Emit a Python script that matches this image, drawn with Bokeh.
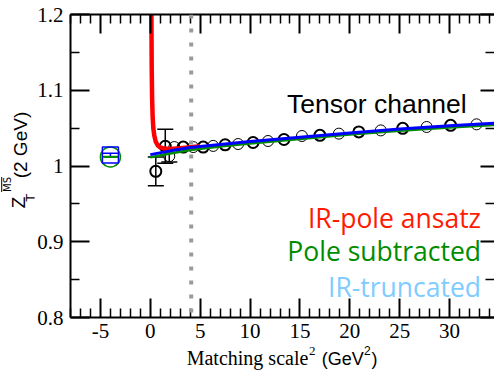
import math
from bokeh.plotting import figure
from bokeh.models import (LinearAxis, FixedTicker, Span, Label, Whisker, TeeHead,
                          ColumnDataSource, Range1d, Div, CustomLabelingPolicy)
from bokeh.layouts import row, column
from bokeh.embed import file_html
from bokeh.resources import INLINE

# ---------------- data ----------------
# open black circles, two interleaved sets (thick / thin outline)
bold_x = [0.55, 1.5, 3.3, 5.3, 7.5, 10.3, 13.4, 17.0, 20.9, 25.3, 30.1]
bold_y = [0.993, 1.026, 1.025, 1.025, 1.028, 1.031, 1.035, 1.0405, 1.045, 1.0497, 1.0537]
bold_err = [0.019, 0.0225, 0, 0, 0, 0, 0, 0, 0, 0, 0]

thin_x = [1.9, 2.4, 4.3, 6.3, 8.8, 11.8, 15.2, 18.9, 23.1, 27.7, 32.7]
thin_y = [1.013, 1.025, 1.025, 1.0265, 1.029, 1.033, 1.0396, 1.0427, 1.047, 1.0515, 1.055]
thin_err = [0.0077, 0, 0, 0, 0, 0, 0, 0, 0, 0, 0]

# extrapolated points at negative abscissa
ext_x = [-4.0]
sub_y = [1.0145]      # blue square
sub_err = [0.0022]
pole_y = [1.012]      # green circle
pole_err = [0.0004]

# fit curves
red_x = [0.09, 0.11, 0.14, 0.18, 0.23, 0.3, 0.4, 0.55, 0.75, 1.0, 1.4, 2.0, 3.0, 4.0, 5.0]
red_y = [1.30, 1.20, 1.13, 1.09, 1.066, 1.050, 1.040, 1.032, 1.027, 1.0245, 1.0230,
         1.0226, 1.0234, 1.0248, 1.0260]

blue_x = [0, 2, 4, 7, 10, 15, 20, 25, 30, 34.5]
blue_y = [1.0150, 1.0200, 1.0243, 1.0285, 1.0322, 1.0380, 1.0436, 1.0487, 1.0530, 1.0565]

green_x = [0, 2, 4, 7, 10, 15, 20, 25, 30, 34.5]
green_y = [1.0115, 1.0165, 1.0210, 1.0258, 1.0298, 1.0358, 1.0415, 1.0466, 1.0508, 1.0543]

matching_scale = 4.1

x_ticks = [-5, 0, 5, 10, 15, 20, 25, 30]
x_tick_labels = ["-5", "0", "5", "10", "15", "20", "25", "30"]
y_ticks = [0.8, 0.9, 1.0, 1.1, 1.2]
y_tick_labels = ["0.8", "0.9", "1", "1.1", "1.2"]

# ---------------- sizes ----------------
YDIV_W = 34
FIG_W = 494 - YDIV_W
FIG_H = 347
XDIV_H = 371 - FIG_H

p = figure(width=FIG_W, height=FIG_H, x_range=Range1d(-8, 34.5), y_range=Range1d(0.8, 1.2),
           output_backend="svg", toolbar_location=None,
           min_border_left=68 - YDIV_W, min_border_right=0, min_border_top=14,
           min_border_bottom=FIG_H - 14 - 303)
p.outline_line_color = None
p.xgrid.visible = False
p.ygrid.visible = False
p.background_fill_color = "white"
p.border_fill_color = "white"

x_minor = [v for v in range(-8, 35) if v % 5 != 0]
y_minor = [0.85, 0.95, 1.05, 1.15]
xt = FixedTicker(ticks=x_ticks, minor_ticks=x_minor)
yt = FixedTicker(ticks=y_ticks, minor_ticks=y_minor)

no_labels = CustomLabelingPolicy(code="return []")


def style(ax, major_len, minor_len, labels):
    ax.axis_line_width = 2
    ax.axis_line_color = "black"
    ax.major_tick_in = major_len
    ax.major_tick_out = 0
    ax.minor_tick_in = minor_len
    ax.minor_tick_out = 0
    ax.major_tick_line_width = 2
    ax.minor_tick_line_width = 1.5
    ax.major_tick_line_color = "black"
    ax.minor_tick_line_color = "black"
    if labels:
        ax.major_label_text_font = "Liberation Serif"
        ax.major_label_text_font_size = "21px"
        ax.major_label_text_color = "black"
    else:
        ax.major_label_text_font_size = "0px"
        ax.major_label_standoff = 0
        ax.major_label_policy = no_labels


bottom = p.xaxis[0]
bottom.ticker = xt
bottom.major_label_overrides = dict(zip(x_ticks, x_tick_labels))
style(bottom, 19, 9, True)
bottom.major_label_standoff = 6

left = p.yaxis[0]
left.ticker = yt
left.major_label_overrides = dict(zip(y_ticks, y_tick_labels))
style(left, 19, 9, True)
left.major_label_standoff = 7

top = LinearAxis(ticker=xt)
style(top, 19, 9, False)
p.add_layout(top, "above")

right = LinearAxis(ticker=yt)
style(right, 14, 9, False)
right.axis_line_alpha = 0
p.add_layout(right, "right")

# vertical dotted line at matching scale
p.add_layout(Span(location=matching_scale, dimension="height", line_color="#9a9a9a",
                  line_width=4, line_dash="4 10"))


def add_err(xs, ys, es, color, head):
    sel = [(x, y, e) for x, y, e in zip(xs, ys, es) if e > 0]
    src = ColumnDataSource(dict(x=[s[0] for s in sel],
                                lo=[s[1] - s[2] for s in sel],
                                hi=[s[1] + s[2] for s in sel]))
    p.add_layout(Whisker(source=src, base="x", lower="lo", upper="hi", dimension="height",
                         line_color=color, line_width=1.5,
                         lower_head=TeeHead(size=head, line_color=color, line_width=1.5),
                         upper_head=TeeHead(size=head, line_color=color, line_width=1.5)))


add_err(bold_x, bold_y, bold_err, "black", 16)
add_err(thin_x, thin_y, thin_err, "black", 16)
add_err(ext_x, sub_y, sub_err, "blue", 16)
add_err(ext_x, pole_y, pole_err, "#008c00", 14)

p.scatter(bold_x, bold_y, marker="circle", size=11, fill_color=None,
          line_color="black", line_width=2)
p.scatter(thin_x, thin_y, marker="circle", size=11, fill_color=None,
          line_color="black", line_width=1)

p.scatter(ext_x, pole_y, marker="circle", size=20, fill_color=None,
          line_color="#008c00", line_width=1.5)
p.scatter(ext_x, sub_y, marker="square", size=16, fill_color=None,
          line_color="blue", line_width=1.5)

p.line(red_x, red_y, line_color="red", line_width=4.5)
p.line(green_x, green_y, line_color="#008c00", line_width=2.5)
p.line(blue_x, blue_y, line_color="blue", line_width=3)


# ---------------- texts inside the frame ----------------
def lab(text, x, y, size, font, color="black", align="left"):
    p.add_layout(Label(text=text, x=x, y=y, x_units="screen", y_units="screen",
                       text_font=font, text_font_size=size, text_color=color,
                       text_align=align, text_baseline="alphabetic"))


lab("Tensor channel", 216.5, 214, "26.5px", "Liberation Sans")
lab("IR-pole ansatz", 410.5, 100, "26.5px", "Open Sans", "#ff1a00", "right")
lab("Pole subtracted", 410.5, 66.7, "26.5px", "Open Sans", "#008c00", "right")
lab("IR-truncated", 410.5, 30.7, "26.5px", "Open Sans", "#80ccff", "right")

# ---------------- axis titles as HTML text ----------------
ASC = {"Liberation Sans": (0.905, 0.212), "Liberation Serif": (0.891, 0.216),
       "DejaVu Sans": (0.928, 0.236)}


def piece(text, font, size, x_left, y_base, rotate=False, extra=""):
    a, d = ASC[font]
    b = size * ((1 - (a + d)) / 2 + a)        # baseline offset inside the line box
    if rotate:
        tx, ty = x_left - b, y_base
        tr = "translate(%.1fpx,%.1fpx) rotate(-90deg)" % (tx, ty)
    else:
        tr = "translate(%.1fpx,%.1fpx)" % (x_left, y_base - b)
    return ('<div style="height:0;white-space:nowrap;transform-origin:0 0;'
            'transform:%s;font-family:\'%s\';font-size:%.1fpx;line-height:%.1fpx;'
            'color:black;%s">%s</div>' % (tr, font, size, size, extra, text))


# x title: coordinates inside the lower div (origin at page x=YDIV_W, y=FIG_H)
oy = FIG_H
ox = YDIV_W
x_html = "".join([
    piece("Matching scale", "Liberation Serif", 20, 186.7 - ox, 365 - oy),
    piece("2", "Liberation Serif", 13, 309.0 - ox, 355 - oy),
    piece("(GeV", "Liberation Sans", 18, 321.7 - ox, 365 - oy),
    piece("2", "Liberation Sans", 12, 364.0 - ox, 355 - oy),
    piece(")", "Liberation Sans", 18, 371.5 - ox, 365 - oy),
])

# y title (rotated, reading upward); for rotated pieces x is the baseline's page x
y_html = "".join([
    piece("Z", "Liberation Sans", 19, 25.0, 208.3, rotate=True),
    piece("T", "Liberation Sans", 13, 34.5, 201.7, rotate=True),
    piece("MS", "DejaVu Sans", 10, 11.7, 192.0, rotate=True,
          extra="text-decoration:overline;"),
    piece("(2 GeV)", "Liberation Sans", 19, 26.7, 178.3, rotate=True),
])

ydiv = Div(text=y_html, width=YDIV_W, height=371, margin=0,
           styles={"overflow": "visible"})
xdiv = Div(text=x_html, width=FIG_W, height=XDIV_H, margin=0,
           styles={"overflow": "visible"})

layout = row(ydiv, column(p, xdiv, spacing=0), spacing=0)

open("out.html", "w").write(file_html(layout, INLINE))
